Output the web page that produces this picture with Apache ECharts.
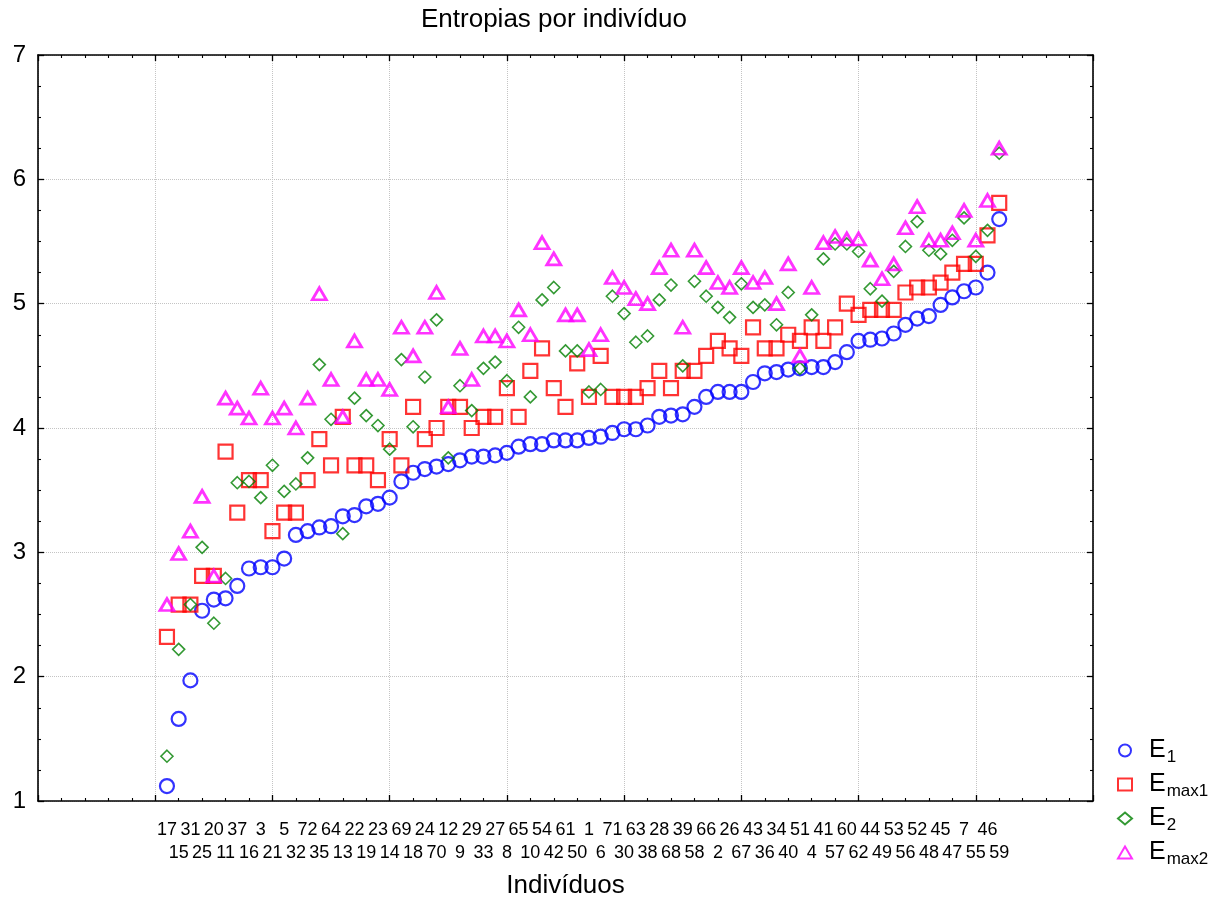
<!DOCTYPE html>
<html>
<head>
<meta charset="utf-8">
<title>Entropias por indivíduo</title>
<script src="https://cdn.jsdelivr.net/npm/echarts@6/dist/echarts.min.js"></script>
<style>
  html, body { margin: 0; padding: 0; background: #fff; }
  #chart { width: 1231px; height: 904px; }
</style>
</head>
<body>
<div id="chart"></div>
<script>
// Individuals, ordered by increasing E1
const individuos = [17,15,31,25,20,11,37,16,3,21,5,32,72,35,64,13,22,19,23,14,69,18,24,70,12,9,29,33,27,8,
  65,10,54,42,61,50,1,6,71,30,63,38,28,68,39,58,66,2,26,67,43,36,34,40,51,4,41,57,60,62,44,49,53,56,52,48,45,47,7,55,46,59];

const e1 = [1.12,1.66,1.97,2.53,2.62,2.63,2.73,2.87,2.88,2.88,
  2.95,3.14,3.17,3.20,3.21,3.29,3.30,3.37,3.39,3.44,
  3.57,3.64,3.67,3.69,3.71,3.74,3.77,3.77,3.78,3.80,
  3.85,3.87,3.87,3.90,3.90,3.90,3.92,3.93,3.96,3.99,
  3.99,4.02,4.09,4.10,4.11,4.17,4.25,4.29,4.29,4.29,
  4.37,4.44,4.45,4.47,4.48,4.49,4.49,4.53,4.61,4.70,
  4.71,4.72,4.76,4.83,4.88,4.90,4.99,5.05,5.10,5.13,
  5.25,5.68];

const emax1 = [2.32,2.58,2.58,2.81,2.81,3.81,3.32,3.58,3.58,3.17,
  3.32,3.32,3.58,3.91,3.70,4.09,3.70,3.70,3.58,3.91,
  3.70,4.17,3.91,4.00,4.17,4.17,4.00,4.09,4.09,4.32,
  4.09,4.46,4.64,4.32,4.17,4.52,4.25,4.58,4.25,4.25,
  4.25,4.32,4.46,4.32,4.46,4.46,4.58,4.70,4.64,4.58,
  4.81,4.64,4.64,4.75,4.70,4.81,4.70,4.81,5.00,4.91,
  4.95,4.95,4.95,5.09,5.13,5.13,5.17,5.25,5.32,5.32,
  5.55,5.81];

const e2 = [1.36,2.22,2.58,3.04,2.43,2.79,3.56,3.57,3.44,3.70,
  3.49,3.55,3.76,4.51,4.07,3.15,4.24,4.10,4.02,3.83,
  4.55,4.01,4.41,4.87,3.76,4.34,4.14,4.48,4.53,4.38,
  4.81,4.25,5.03,5.13,4.62,4.62,4.29,4.31,5.06,4.92,
  4.69,4.74,5.03,5.15,4.50,5.18,5.06,4.97,4.89,5.16,
  4.97,4.99,4.83,5.09,4.48,4.91,5.36,5.48,5.48,5.42,
  5.12,5.02,5.26,5.46,5.66,5.43,5.40,5.51,5.69,5.38,
  5.59,6.21];

const emax2 = [2.58,2.99,3.17,3.45,2.81,4.24,4.16,4.08,4.32,4.08,
  4.16,4.00,4.24,5.08,4.39,4.09,4.70,4.39,4.39,4.31,
  4.81,4.58,4.81,5.09,4.17,4.64,4.39,4.74,4.74,4.70,
  4.95,4.75,5.49,5.36,4.91,4.91,4.63,4.75,5.21,5.13,
  5.04,5.00,5.29,5.43,4.81,5.43,5.29,5.17,5.13,5.29,
  5.17,5.21,5.00,5.32,4.58,5.13,5.49,5.54,5.52,5.52,
  5.35,5.20,5.32,5.61,5.78,5.51,5.51,5.57,5.75,5.51,
  5.83,6.25];

// Case axis runs 0..90; the first individual sits at case position 11
const FIRST_POS = 11;
const X_MIN = 0, X_MAX = 90;
const Y_MIN = 1, Y_MAX = 7;

const FONT = '"Liberation Sans", Arial, sans-serif';
const gridColor = '#c4c4c4';

function pts(values) {
  return values.map((v, i) => [FIRST_POS + i, v]);
}

function idLabel(v) {
  const i = Math.round(v) - FIRST_POS;
  if (i < 0 || i >= individuos.length) return '';
  return (i % 2 === 0 ? '' : '\n') + individuos[i];
}

const frameAxis = {
  min: X_MIN, max: X_MAX, interval: 10,
  axisLine: { show: true, onZero: false, lineStyle: { color: '#000', width: 1.6 } },
  axisTick: { show: true, inside: true, length: 6, lineStyle: { color: '#000', width: 1.3 } },
  minorTick: { show: true, splitNumber: 5, length: 3, lineStyle: { color: '#000', width: 1.1 } },
  axisLabel: { show: false }
};

const chart = echarts.init(document.getElementById('chart'), null, { renderer: 'canvas' });

const legendRich = {
  b: { fontFamily: FONT, fontSize: 25, color: '#000', lineHeight: 25, verticalAlign: 'top' },
  s: { fontFamily: FONT, fontSize: 17, color: '#000', lineHeight: 17, verticalAlign: 'top', padding: [11, 0, 0, 1] }
};
const subs = { 'E1': '1', 'Emax1': 'max1', 'E2': '2', 'Emax2': 'max2' };

const option = {
  animation: false,
  backgroundColor: '#fff',
  title: {
    text: 'Entropias por indivíduo',
    left: 421, top: 7, padding: 0,
    textStyle: { fontFamily: FONT, fontSize: 26, fontWeight: 'normal', color: '#000' }
  },
  legend: {
    orient: 'vertical',
    left: 1112, top: 733,
    itemGap: 6, itemWidth: 14, itemHeight: 12,
    data: ['E1', 'Emax1', 'E2', 'Emax2'],
    formatter: name => '{b|E}{s|' + subs[name] + '}',
    textStyle: { rich: legendRich, padding: [0, 0, 0, 12] }
  },
  grid: { left: 38, top: 55, right: 138, bottom: 101, containLabel: false },
  xAxis: [
    Object.assign({ type: 'value', position: 'bottom',
      splitLine: { show: true, lineStyle: { color: gridColor, type: 'dotted', width: 1 } },
      name: 'Indivíduos', nameLocation: 'middle', nameGap: 72,
      nameTextStyle: { fontFamily: FONT, fontSize: 26, color: '#000' }
    }, frameAxis),
    {
      type: 'value', position: 'bottom', min: X_MIN, max: X_MAX, interval: 1,
      axisLine: { show: false }, axisTick: { show: false }, splitLine: { show: false },
      axisLabel: { show: true, formatter: idLabel, margin: 18, fontFamily: FONT, fontSize: 18,
        lineHeight: 23, color: '#000', hideOverlap: false, showMinLabel: true, showMaxLabel: true }
    },
    Object.assign({ type: 'value', position: 'top', splitLine: { show: false } }, frameAxis)
  ],
  yAxis: [
    {
      type: 'value', position: 'left', min: Y_MIN, max: Y_MAX, interval: 1,
      axisLine: { show: true, onZero: false, lineStyle: { color: '#000', width: 1.6 } },
      axisTick: { show: true, inside: true, length: 6, lineStyle: { color: '#000', width: 1.3 } },
      minorTick: { show: true, splitNumber: 4, length: 3, lineStyle: { color: '#000', width: 1.1 } },
      splitLine: { show: true, lineStyle: { color: gridColor, type: 'dotted', width: 1 } },
      axisLabel: { fontFamily: FONT, fontSize: 24, color: '#000', margin: 12 }
    },
    {
      type: 'value', position: 'right', min: Y_MIN, max: Y_MAX, interval: 1,
      axisLine: { show: true, onZero: false, lineStyle: { color: '#000', width: 1.6 } },
      axisTick: { show: true, inside: true, length: 6, lineStyle: { color: '#000', width: 1.3 } },
      minorTick: { show: true, splitNumber: 4, length: 3, lineStyle: { color: '#000', width: 1.1 } },
      splitLine: { show: false },
      axisLabel: { show: false }
    }
  ],
  series: [
    {
      name: 'E1', type: 'scatter', data: pts(e1), symbol: 'circle', symbolSize: 14,
      itemStyle: { color: 'rgba(255,255,255,0)', borderColor: '#0000ff', borderWidth: 2.2 }
    },
    {
      name: 'Emax1', type: 'scatter', data: pts(emax1), symbol: 'rect', symbolSize: 14,
      itemStyle: { color: 'rgba(255,255,255,0)', borderColor: '#ff0000', borderWidth: 2.2 }
    },
    {
      name: 'E2', type: 'scatter', data: pts(e2), symbol: 'diamond', symbolSize: 12,
      itemStyle: { color: 'rgba(255,255,255,0)', borderColor: '#008000', borderWidth: 1.6 }
    },
    {
      name: 'Emax2', type: 'scatter', data: pts(emax2), symbol: 'triangle', symbolSize: [14, 12],
      itemStyle: { color: 'rgba(255,255,255,0)', borderColor: '#ff00ff', borderWidth: 2.8 }
    }
  ]
};

chart.setOption(option);
</script>
</body>
</html>
